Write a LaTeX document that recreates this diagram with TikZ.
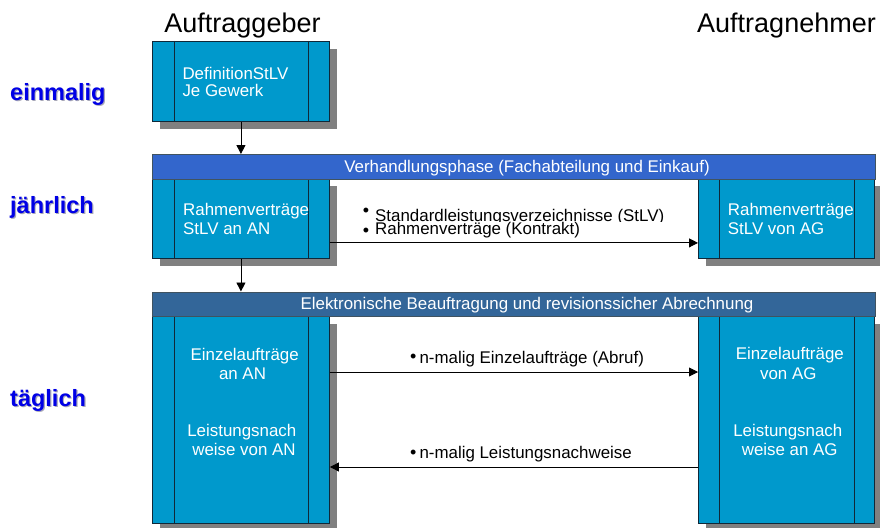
\documentclass[tikz,border=0pt]{standalone}
\usepackage{fontspec}
\setmainfont{Liberation Sans}
\usetikzlibrary{arrows.meta,shadows}
\definecolor{boxfill}{HTML}{0099CC}
\definecolor{barone}{HTML}{3366CC}
\definecolor{bartwo}{HTML}{336699}
\definecolor{shadowgray}{HTML}{808080}
\definecolor{edgedark}{HTML}{102838}
\definecolor{labelblue}{HTML}{0000E6}
\definecolor{labelshade}{HTML}{A8A8B8}
\begin{document}
\begin{tikzpicture}[x=1pt,y=-1pt,
  procbox/.style={draw=edgedark,line width=0.9pt,fill=boxfill,anchor=north west,inner sep=0pt,
    drop shadow={shadow xshift=8pt,shadow yshift=-8pt,opacity=1,fill=shadowgray}},
  phasebar/.style={draw=edgedark!80,line width=0.9pt,anchor=north west,inner sep=0pt,
    minimum width=723pt,minimum height=24.5pt},
  innerline/.style={draw=edgedark,line width=0.9pt},
  boxtext/.style={text=white,inner sep=0pt,font=\fontsize{16.9}{19}\selectfont},
  bartext/.style={text=white,inner sep=0pt,anchor=base,font=\fontsize{16.9}{19}\selectfont},
  plaintext/.style={text=black,inner sep=0pt,anchor=base west,font=\fontsize{16.9}{19}\selectfont},
  bulletmark/.style={text=black,inner sep=0pt,anchor=base,font=\fontsize{18}{19}\selectfont},
  titletext/.style={inner sep=0pt,anchor=base,font=\fontsize{27}{30}\selectfont},
  freqtext/.style={inner sep=0pt,anchor=base west,text=labelblue,font=\fontsize{23.5}{26}\selectfont\bfseries},
  freqshade/.style={inner sep=0pt,anchor=base west,text=labelshade,font=\fontsize{23.5}{26}\selectfont\bfseries},
  flow/.style={draw=black,line width=0.9pt,-{Triangle[length=9pt,width=9pt]}}
]
\useasboundingbox (0,0) rectangle (880,527);
\fill[white] (0,0) rectangle (880,527);

% titles
\node[titletext] (tag) at (242.5,33) {Auftraggeber};
\node[titletext] (tan) at (786.5,33) {Auftragnehmer};

% frequency labels
\node[freqshade] (s1) at (11.2,101.9) {einmalig};
\node[freqtext] (f1) at (10,100.7) {einmalig};
\node[freqshade] (s2) at (11.2,214.2) {jährlich};
\node[freqtext] (f2) at (10,213) {jährlich};
\node[freqshade] (s3) at (11.2,407.9) {täglich};
\node[freqtext] (f3) at (10,406.7) {täglich};

% boxes
\node[procbox,minimum width=177pt,minimum height=80pt] (b1) at (152,41) {};
\node[procbox,minimum width=177pt,minimum height=80pt] (b2l) at (152,178) {};
\node[procbox,minimum width=176pt,minimum height=80pt] (b2r) at (698,178) {};
\node[procbox,minimum width=177pt,minimum height=207pt] (b3l) at (152,316) {};
\node[procbox,minimum width=176pt,minimum height=207pt] (b3r) at (698,316) {};

% inner lines
\foreach \b in {b1,b2l,b3l}{
  \draw[innerline] ([xshift=22pt]\b.north west) -- ([xshift=22pt]\b.south west);
  \draw[innerline] ([xshift=-21pt]\b.north east) -- ([xshift=-21pt]\b.south east);
}
\foreach \b in {b2r,b3r}{
  \draw[innerline] ([xshift=21pt]\b.north west) -- ([xshift=21pt]\b.south west);
  \draw[innerline] ([xshift=-20pt]\b.north east) -- ([xshift=-20pt]\b.south east);
}

% phase bars
\node[phasebar,fill=barone] (p1) at (152,154) {};
\node[phasebar,fill=bartwo] (p2) at (152,291.5) {};
\node[bartext] (p1t) at (527,172) {Verhandlungsphase (Fachabteilung und Einkauf)};
\node[bartext] (p2t) at (527,309.5) {Elektronische Beauftragung und revisionssicher Abrechnung};

% box texts
\node[boxtext,anchor=base west] (t1a) at (182.3,79.3) {DefinitionStLV};
\node[boxtext,anchor=base west] (t1b) at (182.3,96.7) {Je Gewerk};
\node[boxtext,anchor=base west] (t2a) at (183,215.7) {Rahmenverträge};
\node[boxtext,anchor=base west] (t2b) at (183,234.3) {StLV an AN};
\node[boxtext,anchor=base west] (t2c) at (727.7,215.7) {Rahmenverträge};
\node[boxtext,anchor=base west] (t2d) at (727.7,234.3) {StLV von AG};
\node[boxtext,anchor=base] (t3a) at (244.7,360) {Einzelaufträge};
\node[boxtext,anchor=base] (t3b) at (242.5,379) {an AN};
\node[boxtext,anchor=base] (t3c) at (241.8,436.7) {Leistungsnach};
\node[boxtext,anchor=base] (t3d) at (244,455.7) {weise von AN};
\node[boxtext,anchor=base] (t4a) at (789.8,359.3) {Einzelaufträge};
\node[boxtext,anchor=base] (t4b) at (788.3,379) {von AG};
\node[boxtext,anchor=base] (t4c) at (787.8,436.7) {Leistungsnach};
\node[boxtext,anchor=base] (t4d) at (789.7,455.7) {weise an AG};

% connectors
\draw[flow] (b1.south) -- (b1.south |- p1.north);
\draw[flow] (b2l.south) -- (b2l.south |- p2.north);
\draw[flow] ([yshift=16pt]b2l.south east) -- ([yshift=16pt]b2l.south east -| b2r.west);
\draw[flow] ([yshift=-56pt]b3l.north east) -- ([yshift=-56pt]b3l.north east -| b3r.west);
\draw[flow] ([yshift=-151pt]b3r.north west) -- ([yshift=-151pt]b3r.north west -| b3l.east);

% connector labels
\node[bulletmark] (m1) at (366,216.2) {•};
\begin{scope}
  \clip (360,190) rectangle (700,221.8);
  \node[plaintext,text depth=0pt] (l1) at (375,221) {Standardleistungsverzeichnisse (StLV)};
\end{scope}
\node[bulletmark] (m2) at (366,236.5) {•};
\node[plaintext] (l2) at (375,234.3) {Rahmenverträge (Kontrakt)};
\node[bulletmark] (m3) at (413.3,362.9) {•};
\node[plaintext] (l3) at (419.3,363.3) {n-malig Einzelaufträge (Abruf)};
\node[bulletmark] (m4) at (413.3,458.9) {•};
\node[plaintext] (l4) at (419.3,458.3) {n-malig Leistungsnachweise};
\end{tikzpicture}
\end{document}
